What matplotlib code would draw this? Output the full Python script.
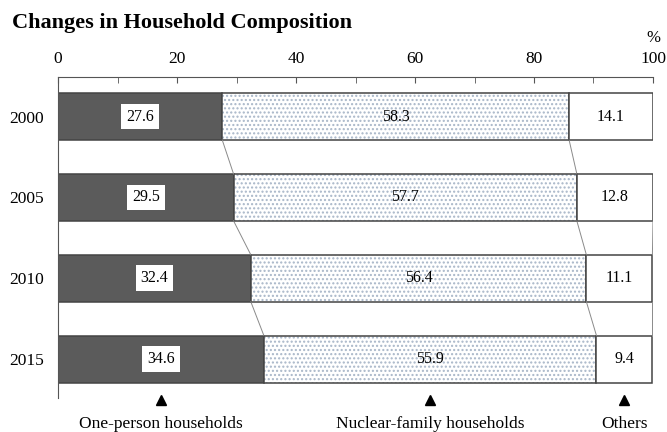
import matplotlib.pyplot as plt
import numpy as np

plt.rcParams['font.family'] = ['Liberation Serif', 'DejaVu Serif']

# ___data___
years = ['2000', '2005', '2010', '2015']
one_person = [27.6, 29.5, 32.4, 34.6]
nuclear = [58.3, 57.7, 56.4, 55.9]
others = [14.1, 12.8, 11.1, 9.4]
categories = ['One-person households', 'Nuclear-family households', 'Others']


def main():
    fig = plt.figure(figsize=(6.67, 4.32), dpi=100)
    ax = fig.add_axes([0.087, 0.079, 0.892, 0.743])

    y = np.arange(len(years))
    h = 0.58
    a = np.array(one_person)
    b = np.array(nuclear)
    c = np.array(others)

    ax.barh(y, a, height=h, color='#5b5b5b', edgecolor='#444444', lw=1.1)
    ax.barh(y, b, left=a, height=h, color='white', edgecolor='#a8b6c8',
            hatch='....', lw=0)
    ax.barh(y, b, left=a, height=h, color='none', edgecolor='#444444', lw=1.1)
    ax.barh(y, c, left=a + b, height=h, color='white', edgecolor='#444444', lw=1.1)

    # connecting lines between bars
    bounds = np.vstack([np.zeros(len(a)), a, a + b, a + b + c])
    for k in range(1, bounds.shape[0]):
        for i in range(len(years) - 1):
            ax.plot([bounds[k, i], bounds[k, i + 1]], [y[i] + h / 2, y[i + 1] - h / 2],
                    color='#8a8a8a', lw=0.7)

    # value labels
    for i in range(len(years)):
        ax.text(a[i] / 2, y[i], f'{a[i]:.1f}', ha='center', va='center', fontsize=11.5,
                bbox=dict(boxstyle='square,pad=0.3', fc='white', ec='none'))
        ax.text(a[i] + b[i] / 2, y[i], f'{b[i]:.1f}', ha='center', va='center',
                fontsize=11.5)
        ax.text(a[i] + b[i] + c[i] / 2, y[i], f'{c[i]:.1f}', ha='center', va='center',
                fontsize=11.5)

    # markers and category names below the last bar
    last = len(years) - 1
    mids = [a[last] / 2, a[last] + b[last] / 2, a[last] + b[last] + c[last] / 2]
    for m, name in zip(mids, categories):
        ax.plot(m, 3.51, marker='^', color='black', ms=7, clip_on=False)
        ax.text(m, 3.8, name, ha='center', va='center', fontsize=12.5, clip_on=False)

    ax.set_xlim(0, 100)
    ax.set_ylim(3.48, -0.49)
    ax.xaxis.tick_top()
    ax.set_xticks(range(0, 101, 20))
    ax.set_xticks(range(0, 101, 10), minor=True)
    ax.tick_params(axis='x', which='both', direction='in', length=4, color='#555555',
                   labelsize=12.5, pad=7)
    ax.set_yticks(y)
    ax.set_yticklabels(years)
    ax.tick_params(axis='y', length=0, labelsize=12.5, pad=10)
    for s in ['right', 'bottom']:
        ax.spines[s].set_visible(False)
    for s in ['top', 'left']:
        ax.spines[s].set_color('#555555')
        ax.spines[s].set_linewidth(0.8)

    ax.text(100, -0.97, '%', ha='center', va='center', fontsize=12)
    fig.text(0.018, 0.947, 'Changes in Household Composition', fontsize=16,
             fontweight='bold', ha='left', va='center')

    plt.savefig('out.png')


if __name__ == '__main__':
    main()
